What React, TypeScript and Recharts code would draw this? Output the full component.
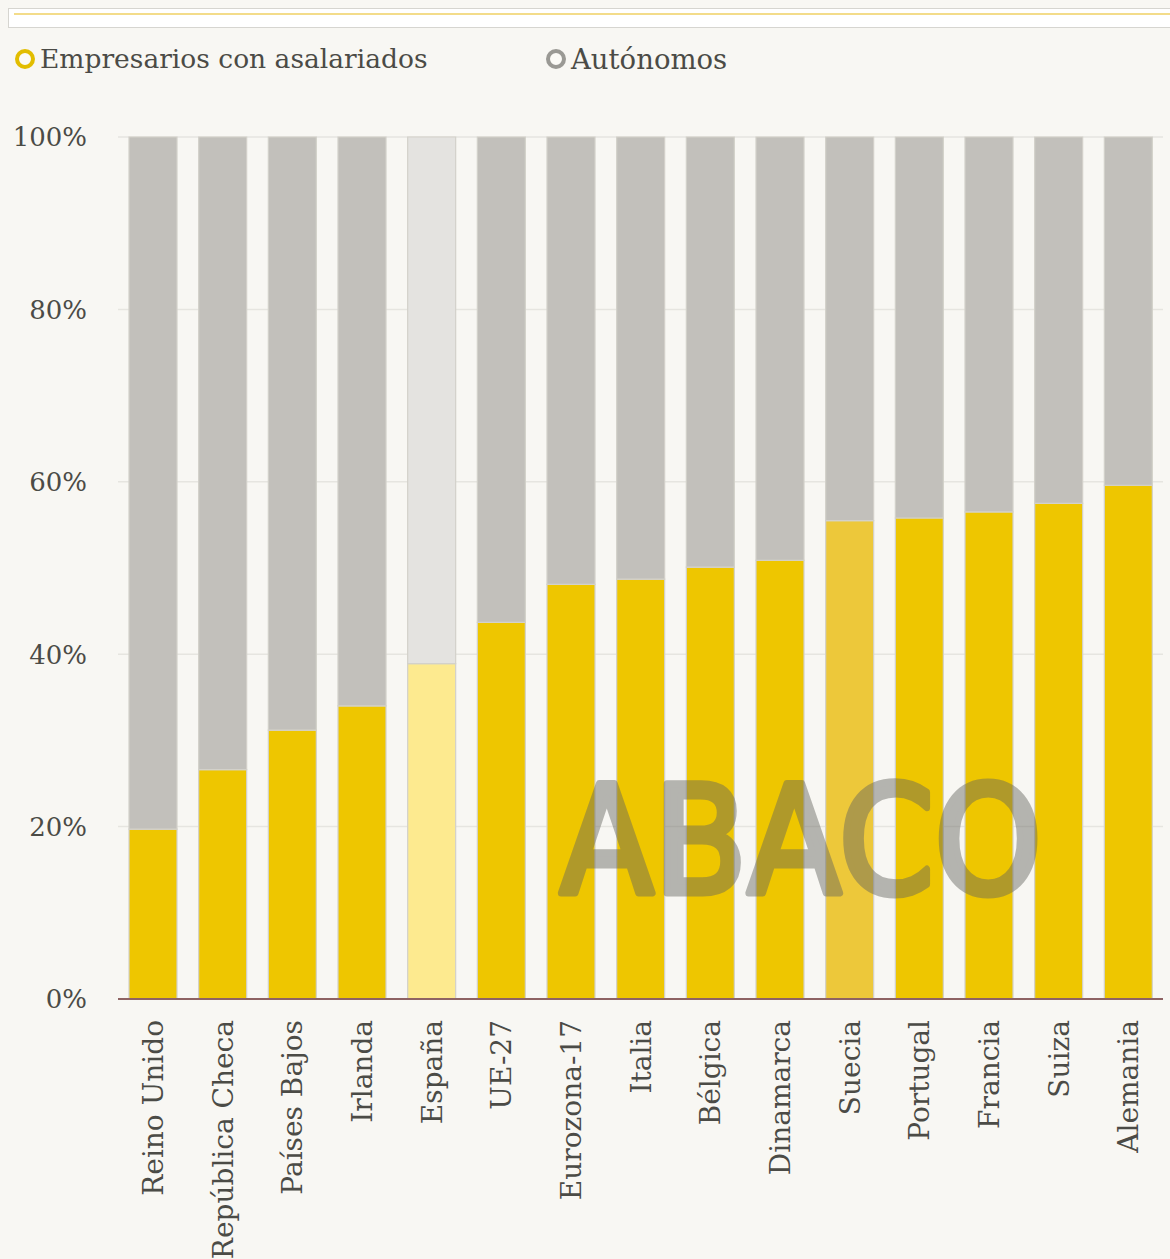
import React from "react";
import { BarChart, Bar, XAxis, YAxis, CartesianGrid, Cell } from "recharts";

// Share of self-employed, by type (%)
const countries = [
  "Reino Unido",
  "República Checa",
  "Países Bajos",
  "Irlanda",
  "España",
  "UE-27",
  "Eurozona-17",
  "Italia",
  "Bélgica",
  "Dinamarca",
  "Suecia",
  "Portugal",
  "Francia",
  "Suiza",
  "Alemania",
];
const empresarios = [19.7, 26.6, 31.2, 34.0, 38.9, 43.7, 48.1, 48.7, 50.1, 50.9, 55.5, 55.8, 56.5, 57.5, 59.6];
const autonomos = [80.3, 73.4, 68.8, 66.0, 61.1, 56.3, 51.9, 51.3, 49.9, 49.1, 44.5, 44.2, 43.5, 42.5, 40.4];
const yTicks = [0, 20, 40, 60, 80, 100];

const YELLOW = "#EEC600";
const GRAY = "#C2C0BB";
const BG = "#F8F7F3";
const TEXT = "#4b4b46";
const FONT = "'DejaVu Serif', serif";

const data = countries.map((name, i) => ({
  name,
  empresarios: empresarios[i],
  autonomos: autonomos[i],
}));

const yellowFor = (name: string) =>
  name === "España" ? "#FDEA8F" : name === "Suecia" ? "#EDC83A" : YELLOW;
const grayFor = (name: string) => (name === "España" ? "#E4E3E0" : GRAY);

const XTick = (props: any) => {
  const { x, y, payload } = props;
  return (
    <g transform={`translate(${x},${y + 21}) rotate(-90)`}>
      <text textAnchor="end" dy="0.36em" fill={TEXT} fontSize={28} fontFamily={FONT}>
        {payload.value}
      </text>
    </g>
  );
};

const YTick = (props: any) => {
  const { x, y, payload } = props;
  return (
    <text x={x} y={y} textAnchor="end" dy="0.36em" fill={TEXT} fontSize={26} fontFamily={FONT}>
      {payload.value}%
    </text>
  );
};

const LegendItem = ({ color, label, left, size }: { color: string; label: string; left: number; size: number }) => (
  <div style={{ position: "absolute", left, top: 43, display: "flex", alignItems: "center" }}>
    <span
      style={{
        width: 12,
        height: 12,
        borderRadius: "50%",
        border: `4px solid ${color}`,
        background: "#fbfaf6",
        marginRight: 5,
      }}
    />
    <span style={{ fontFamily: FONT, fontSize: size, color: TEXT }}>{label}</span>
  </div>
);

export default function App() {
  return (
    <div style={{ position: "absolute", left: 0, top: 0, width: 1170, height: 1259, background: BG, overflow: "hidden" }}>
      {/* top header strip */}
      <div
        style={{
          position: "absolute",
          left: 8,
          top: 8,
          width: 1170,
          height: 18,
          background: "#fff",
          border: "1px solid #d6d5d0",
        }}
      >
        <div style={{ position: "absolute", left: 5, right: 0, top: 4, height: 2, background: "#F3DC8A" }} />
      </div>

      <LegendItem color="#E2BD00" label="Empresarios con asalariados" left={15} size={26.5} />
      <LegendItem color="#9a9994" label="Autónomos" left={546} size={27.5} />

      <div style={{ position: "absolute", left: 0, top: 0 }}>
        <BarChart width={1170} height={1259} data={data} margin={{ top: 137, right: 7, bottom: 0, left: 0 }}>
          <CartesianGrid vertical={false} stroke="#E6E5E0" strokeWidth={1.5} />
          <XAxis
            dataKey="name"
            interval={0}
            height={260}
            tickLine={false}
            tickSize={0}
            tickMargin={0}
            axisLine={{ stroke: "#8E6363", strokeWidth: 2 }}
            tick={<XTick />}
          />
          <YAxis
            domain={[0, 100]}
            ticks={yTicks}
            width={118}
            axisLine={false}
            tickLine={false}
            tickSize={0}
            tickMargin={31}
            tick={<YTick />}
          />
          <Bar dataKey="empresarios" stackId="a" barSize={48} stroke="#D3D1CA" strokeWidth={1.2} isAnimationActive={false}>
            {data.map((d) => (
              <Cell key={d.name} fill={yellowFor(d.name)} />
            ))}
          </Bar>
          <Bar dataKey="autonomos" stackId="a" barSize={48} stroke="#D3D1CA" strokeWidth={1.2} isAnimationActive={false}>
            {data.map((d) => (
              <Cell key={d.name} fill={grayFor(d.name)} />
            ))}
          </Bar>
        </BarChart>
      </div>

      {/* watermark */}
      <svg width={1170} height={1259} style={{ position: "absolute", left: 0, top: 0, pointerEvents: "none" }}>
        <g opacity={0.45}>
          <text
            x={560}
            y={893}
            fontSize={150}
            fontFamily="'DejaVu Sans', sans-serif"
            textLength={482}
            lengthAdjust="spacingAndGlyphs"
            fill="rgb(100,100,94)"
            stroke="rgb(100,100,94)"
            strokeWidth={7}
            strokeLinejoin="round"
          >
            ABACO
          </text>
        </g>
      </svg>
    </div>
  );
}
